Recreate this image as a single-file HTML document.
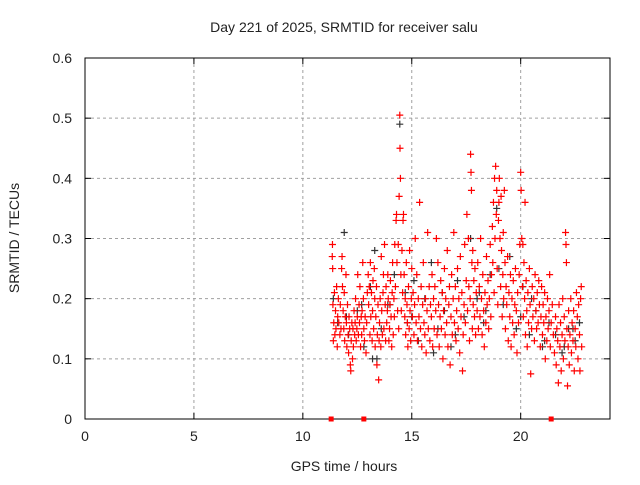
<!DOCTYPE html>
<html><head><meta charset="utf-8"><style>
body{margin:0;background:#fff;}
svg text{font-family:"Liberation Sans",sans-serif;font-size:14px;fill:#222;}
</style></head><body>
<svg id="chart" width="640" height="480" xmlns="http://www.w3.org/2000/svg">
<rect width="640" height="480" fill="#fff"/>
<text x="344" y="32" text-anchor="middle">Day 221 of 2025, SRMTID for receiver salu</text>
<g id="grid"></g>
<g id="axes"></g>
<g id="black"></g>
<g id="red"></g>
<text x="344" y="471" text-anchor="middle">GPS time / hours</text>
<text transform="translate(19,238) rotate(-90)" text-anchor="middle">SRMTID / TECUs</text>
</svg>
<script>
const xTicks=[0,5,10,15,20];
const yTicks=[0,0.1,0.2,0.3,0.4,0.5,0.6];
const yTickLabels=["0","0.1","0.2","0.3","0.4","0.5","0.6"];
const redPoints=[
[11.35,0.27],[11.36,0.29],[11.37,0.25],[11.38,0.19],[11.4,0.13],[11.42,0.16],[11.45,0.21],[11.47,0.14],[11.5,0.18],[11.52,0.15],[11.55,0.22],[11.58,0.12],[11.6,0.17],[11.63,0.2],[11.65,0.16],[11.7,0.14],[11.72,0.19],[11.75,0.15],[11.78,0.25],[11.8,0.27],[11.82,0.22],[11.85,0.18],[11.88,0.15],[11.9,0.21],[11.92,0.13],[11.95,0.17],[11.98,0.24],
[12.0,0.16],[12.02,0.12],[12.05,0.19],[12.08,0.14],[12.1,0.11],[12.12,0.17],[12.15,0.15],[12.18,0.09],[12.2,0.08],[12.22,0.13],[12.25,0.16],[12.28,0.1],[12.3,0.15],[12.32,0.12],[12.35,0.18],[12.38,0.14],[12.4,0.16],[12.42,0.2],[12.45,0.13],[12.48,0.15],[12.5,0.17],[12.52,0.24],[12.55,0.14],[12.58,0.19],[12.6,0.16],[12.62,0.22],[12.65,0.12],[12.68,0.17],[12.7,0.14],[12.72,0.18],[12.75,0.26],[12.78,0.2],[12.8,0.15],[12.83,0.13],[12.86,0.17],[12.9,0.11],[12.93,0.16],[12.96,0.21],
[13.0,0.24],[13.02,0.19],[13.05,0.22],[13.08,0.14],[13.1,0.26],[13.12,0.17],[13.15,0.21],[13.18,0.13],[13.2,0.18],[13.22,0.23],[13.25,0.15],[13.28,0.25],[13.3,0.2],[13.32,0.12],[13.35,0.17],[13.38,0.22],[13.4,0.09],[13.42,0.14],[13.45,0.19],[13.48,0.065],[13.5,0.13],[13.52,0.16],[13.55,0.2],[13.58,0.12],[13.6,0.27],[13.62,0.18],[13.65,0.14],[13.68,0.21],[13.7,0.24],[13.72,0.15],[13.75,0.29],[13.78,0.19],[13.8,0.13],[13.82,0.22],[13.85,0.16],[13.88,0.18],[13.9,0.24],[13.92,0.2],[13.95,0.13],[13.98,0.15],
[14.0,0.19],[14.02,0.23],[14.05,0.17],[14.08,0.12],[14.1,0.21],[14.12,0.26],[14.15,0.14],[14.18,0.2],[14.2,0.17],[14.22,0.29],[14.25,0.22],[14.28,0.33],[14.3,0.34],[14.32,0.26],[14.35,0.18],[14.38,0.29],[14.4,0.15],[14.42,0.37],[14.45,0.505],[14.46,0.45],[14.48,0.4],[14.5,0.24],[14.52,0.18],[14.55,0.28],[14.58,0.21],[14.6,0.33],[14.62,0.34],[14.65,0.24],[14.68,0.17],[14.7,0.2],[14.72,0.14],[14.75,0.26],[14.78,0.19],[14.8,0.16],[14.82,0.12],[14.85,0.22],[14.88,0.15],[14.9,0.28],[14.92,0.18],[14.95,0.13],[14.98,0.2],
[15.0,0.25],[15.03,0.17],[15.06,0.21],[15.1,0.14],[15.13,0.19],[15.16,0.3],[15.2,0.16],[15.23,0.24],[15.26,0.13],[15.3,0.2],[15.33,0.17],[15.36,0.36],[15.4,0.15],[15.43,0.22],[15.46,0.12],[15.5,0.19],[15.53,0.26],[15.56,0.16],[15.6,0.14],[15.63,0.2],[15.66,0.11],[15.7,0.18],[15.73,0.31],[15.76,0.15],[15.8,0.22],[15.83,0.13],[15.86,0.19],[15.9,0.17],[15.93,0.24],[15.96,0.12],
[16.0,0.2],[16.03,0.15],[16.06,0.22],[16.1,0.18],[16.13,0.3],[16.16,0.14],[16.2,0.26],[16.23,0.19],[16.26,0.12],[16.3,0.17],[16.33,0.23],[16.36,0.15],[16.4,0.21],[16.43,0.1],[16.46,0.18],[16.5,0.25],[16.53,0.14],[16.56,0.2],[16.6,0.16],[16.63,0.28],[16.66,0.12],[16.7,0.19],[16.73,0.22],[16.76,0.09],[16.8,0.17],[16.83,0.24],[16.86,0.14],[16.9,0.2],[16.93,0.31],[16.96,0.16],
[17.0,0.22],[17.03,0.13],[17.06,0.18],[17.1,0.25],[17.13,0.15],[17.16,0.2],[17.2,0.11],[17.23,0.27],[17.26,0.17],[17.3,0.21],[17.33,0.08],[17.36,0.14],[17.4,0.19],[17.43,0.29],[17.46,0.16],[17.5,0.23],[17.53,0.34],[17.56,0.18],[17.6,0.3],[17.62,0.22],[17.65,0.13],[17.68,0.2],[17.7,0.44],[17.72,0.41],[17.74,0.38],[17.76,0.26],[17.78,0.15],[17.8,0.28],[17.82,0.19],[17.85,0.23],[17.88,0.17],[17.9,0.25],[17.93,0.14],[17.96,0.21],
[18.0,0.18],[18.03,0.26],[18.06,0.15],[18.1,0.22],[18.13,0.17],[18.16,0.3],[18.2,0.2],[18.23,0.14],[18.26,0.24],[18.3,0.18],[18.33,0.12],[18.36,0.21],[18.4,0.16],[18.43,0.27],[18.46,0.19],[18.5,0.23],[18.53,0.15],[18.56,0.2],[18.6,0.29],[18.63,0.17],[18.66,0.24],[18.7,0.32],[18.72,0.26],[18.75,0.36],[18.78,0.21],[18.8,0.4],[18.82,0.3],[18.85,0.42],[18.88,0.34],[18.9,0.38],[18.92,0.25],[18.95,0.19],[18.98,0.33],
[19.0,0.36],[19.02,0.4],[19.05,0.3],[19.08,0.22],[19.1,0.37],[19.12,0.28],[19.15,0.17],[19.18,0.24],[19.2,0.31],[19.22,0.2],[19.25,0.38],[19.28,0.26],[19.3,0.15],[19.33,0.22],[19.36,0.19],[19.4,0.27],[19.43,0.13],[19.46,0.21],[19.5,0.17],[19.53,0.24],[19.56,0.12],[19.6,0.2],[19.63,0.16],[19.66,0.23],[19.7,0.14],[19.73,0.19],[19.76,0.25],[19.8,0.18],[19.83,0.11],[19.86,0.21],[19.9,0.16],[19.93,0.24],[19.96,0.29],
[20.0,0.41],[20.02,0.38],[20.05,0.3],[20.08,0.22],[20.1,0.29],[20.12,0.17],[20.15,0.26],[20.18,0.2],[20.2,0.36],[20.22,0.14],[20.25,0.23],[20.28,0.18],[20.3,0.12],[20.33,0.21],[20.36,0.16],[20.4,0.25],[20.43,0.19],[20.46,0.075],[20.5,0.15],[20.53,0.22],[20.56,0.17],[20.6,0.2],[20.63,0.13],[20.66,0.24],[20.7,0.18],[20.73,0.15],[20.76,0.21],[20.8,0.16],[20.83,0.23],[20.86,0.19],[20.9,0.12],[20.93,0.17],[20.96,0.22],
[21.0,0.14],[21.03,0.19],[21.06,0.16],[21.1,0.21],[21.13,0.1],[21.16,0.17],[21.2,0.13],[21.23,0.2],[21.26,0.15],[21.3,0.18],[21.33,0.24],[21.36,0.12],[21.4,0.16],[21.45,0.19],[21.5,0.14],[21.55,0.11],[21.6,0.17],[21.63,0.09],[21.66,0.15],[21.7,0.13],[21.73,0.06],[21.76,0.19],[21.8,0.12],[21.83,0.16],[21.86,0.08],[21.9,0.14],[21.93,0.2],[21.96,0.1],
[22.0,0.17],[22.03,0.13],[22.06,0.31],[22.08,0.29],[22.1,0.26],[22.12,0.15],[22.15,0.055],[22.18,0.12],[22.2,0.18],[22.23,0.09],[22.26,0.14],[22.3,0.2],[22.33,0.11],[22.36,0.16],[22.4,0.13],[22.43,0.18],[22.46,0.08],[22.5,0.15],[22.53,0.12],[22.56,0.21],[22.6,0.17],[22.63,0.1],[22.66,0.19],[22.7,0.14],[22.72,0.08],[22.75,0.2],[22.78,0.22],[22.8,0.12]
];
const blackPoints=[
[11.4,0.2],[11.6,0.16],[11.9,0.31],[12.1,0.14],[12.5,0.18],[12.8,0.12],[13.1,0.22],[13.3,0.28],[13.4,0.1],[13.6,0.15],[13.9,0.19],[14.2,0.24],[14.45,0.49],[14.7,0.21],[15.0,0.17],[15.3,0.13],[15.6,0.2],[15.9,0.26],[16.2,0.15],[16.5,0.18],[16.8,0.12],[17.1,0.23],[17.4,0.17],[17.7,0.3],[18.0,0.2],[18.3,0.16],[18.6,0.24],[18.9,0.35],[19.2,0.19],[19.5,0.27],[19.8,0.15],[20.1,0.22],[20.4,0.14],[20.7,0.18],[21.0,0.12],[21.3,0.16],[21.6,0.14],[21.9,0.11],[22.2,0.15],[22.5,0.13],[22.7,0.16],
[12.0,0.17],[13.2,0.1],[14.0,0.19],[15.1,0.23],[16.0,0.11],[17.0,0.14],[18.1,0.21],[19.0,0.25],[20.0,0.17],[21.1,0.13],[22.0,0.12],[12.7,0.19],[14.8,0.16],[16.4,0.21],[18.4,0.18],[20.5,0.2],[22.4,0.15]
];
const squarePoints=[[11.3,0],[12.8,0],[21.4,0]];
const X0=85,X1=610,Y0=419,Y1=58,XMAX=24.1,YMAX=0.6;
const sx=t=>X0+(X1-X0)*t/XMAX, sy=v=>Y0-(Y0-Y1)*v/YMAX;
const NS="http://www.w3.org/2000/svg";
function mk(tag,attrs,parent){const e=document.createElementNS(NS,tag);for(const k in attrs)e.setAttribute(k,attrs[k]);parent.appendChild(e);return e;}
const grid=document.getElementById('grid'),axes=document.getElementById('axes');
xTicks.forEach(t=>{const x=sx(t);
 if(t>0){const g=mk('line',{x1:x,x2:x,y1:Y1,y2:Y0,stroke:'#a0a0a0','stroke-dasharray':'3,3'},grid);}
 mk('line',{x1:x,x2:x,y1:Y0,y2:Y0-6,stroke:'#000'},axes);mk('line',{x1:x,x2:x,y1:Y1,y2:Y1+6,stroke:'#000'},axes);
 const tx=mk('text',{x:x,y:Y0+22,'text-anchor':'middle'},axes);tx.textContent=t;
 
 });
yTicks.forEach((v,i)=>{const y=sy(v);
 if(v>0&&v<YMAX){const g=mk('line',{x1:X0,x2:X1,y1:y,y2:y,stroke:'#a0a0a0','stroke-dasharray':'3,3'},grid);}
 mk('line',{x1:X0,x2:X0+6,y1:y,y2:y,stroke:'#000'},axes);mk('line',{x1:X1,x2:X1-6,y1:y,y2:y,stroke:'#000'},axes);
 const tx=mk('text',{x:X0-13,y:y+5,'text-anchor':'end'},axes);tx.textContent=yTickLabels[i];
 
 });
const frame=mk('rect',{x:X0,y:Y1,width:X1-X0,height:Y0-Y1,fill:'none',stroke:'#000'},axes);


function plus(g,t,v,c){const x=sx(t),y=sy(v);const p=mk('path',{d:`M${x-3.5} ${y}h7M${x} ${y-3.5}v7`,stroke:c,'stroke-width':1.2,fill:'none'},g);
 
 }
const bg=document.getElementById('black'),rg=document.getElementById('red');
blackPoints.forEach(p=>plus(bg,p[0],p[1],'#333'));
redPoints.forEach(p=>plus(rg,p[0],p[1],'#f00'));
squarePoints.forEach(p=>{const s=mk('rect',{x:sx(p[0])-2.5,y:sy(p[1])-2.5,width:5,height:5,fill:'#f00'},rg);
 
 });
</script>
</body></html>
